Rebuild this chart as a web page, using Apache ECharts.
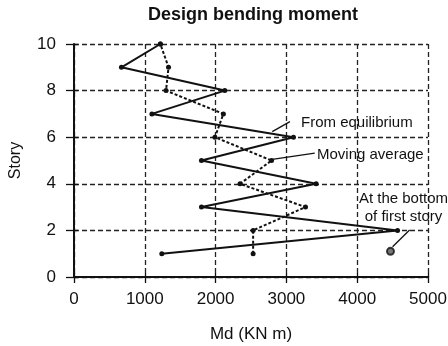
<!DOCTYPE html>
<html>
<head>
<meta charset="utf-8">
<script src="https://cdn.jsdelivr.net/npm/echarts@6/dist/echarts.min.js"></script>
<style>
html, body { margin: 0; padding: 0; background: #fff; }
#chart { width: 448px; height: 346px; }
</style>
</head>
<body>
<div id="chart"></div>
<script>
// story levels and design moments (KN m)
var stories = [1, 2, 3, 4, 5, 6, 7, 8, 9, 10];
var fromEquilibrium = [1240, 4570, 1800, 3420, 1800, 3100, 1100, 2130, 670, 1220];
var movingAverage = [2530, 2530, 3270, 2345, 2790, 1990, 2110, 1300, 1335, 1220];
var bottomOfFirst = [[4470, 1.1]];

// annotation leaders, in data units
var leaderEquilibrium = [[2800, 6.24], [3050, 6.67]];
var leaderMoving = [[2800, 5.05], [3400, 5.32]];
var leaderBottom = [[4500, 1.3], [4740, 2.02]];

var FONT = '"Liberation Sans", Arial, Helvetica, sans-serif';

function pairs(xs, ys) {
    return xs.map(function (x, i) { return [x, ys[i]]; });
}

var chart = echarts.init(document.getElementById('chart'));

var leaderStyle = { color: '#111', width: 1.3 };
var tickStyle = { color: '#111', width: 1.3 };
var plain = function (v) { return String(v); };

var option = {
    animation: false,
    backgroundColor: '#fff',
    title: {
        text: 'Design bending moment',
        left: 248, top: 1, textAlign: 'center',
        textStyle: { fontFamily: FONT, fontSize: 18, fontWeight: 'bold', color: '#111' }
    },
    grid: { left: 74, right: 20, top: 44, bottom: 69, outerBoundsMode: 'none' },
    xAxis: [{
        type: 'value', min: 0, max: 5000, interval: 1000,
        name: 'Md (KN m)', nameLocation: 'middle', nameGap: 49,
        nameTextStyle: { fontFamily: FONT, fontSize: 17, color: '#111' },
        axisLine: { lineStyle: { color: '#111', width: 2 } },
        axisTick: { show: true, length: 6, lineStyle: tickStyle },
        axisLabel: { fontFamily: FONT, fontSize: 17, color: '#111', margin: 14, formatter: plain },
        splitLine: { show: true, lineStyle: { color: '#222', width: 1.3, type: [5, 3] } }
    }, {
        // inner half of the crossing ticks
        type: 'value', min: 0, max: 5000, interval: 1000, position: 'bottom',
        axisLine: { show: false }, axisLabel: { show: false }, splitLine: { show: false },
        axisTick: { show: true, inside: true, length: 4, lineStyle: tickStyle }
    }],
    yAxis: [{
        type: 'value', min: 0, max: 10, interval: 2,
        name: 'Story', nameLocation: 'middle', nameGap: 50,
        nameTextStyle: { fontFamily: FONT, fontSize: 16, color: '#111' },
        axisLine: { show: true, lineStyle: { color: '#111', width: 2 } },
        axisTick: { show: true, length: 8, lineStyle: tickStyle },
        axisLabel: { fontFamily: FONT, fontSize: 17, color: '#111', margin: 18, formatter: plain },
        splitLine: { show: true, lineStyle: { color: '#222', width: 1.3, type: [5, 3] } }
    }, {
        type: 'value', min: 0, max: 10, interval: 2, position: 'left',
        axisLine: { show: false }, axisLabel: { show: false }, splitLine: { show: false },
        axisTick: { show: true, inside: true, length: 4, lineStyle: tickStyle }
    }],
    series: [
        {
            name: 'Moving average', type: 'line',
            data: pairs(movingAverage, stories),
            symbol: 'circle', symbolSize: 5,
            itemStyle: { color: '#111' },
            lineStyle: { color: '#111', width: 2, type: [3, 2] },
            z: 2
        },
        {
            name: 'From equilibrium', type: 'line',
            data: pairs(fromEquilibrium, stories),
            symbol: 'circle', symbolSize: 5,
            itemStyle: { color: '#111' },
            lineStyle: { color: '#111', width: 2 },
            z: 3
        },
        {
            name: 'At the bottom of first story', type: 'scatter',
            data: bottomOfFirst,
            symbol: 'circle', symbolSize: 7,
            itemStyle: { color: '#555', borderColor: '#111', borderWidth: 2 },
            z: 4
        },
        { type: 'line', data: leaderEquilibrium, symbol: 'none', silent: true, lineStyle: leaderStyle, z: 5 },
        { type: 'line', data: leaderMoving, symbol: 'none', silent: true, lineStyle: leaderStyle, z: 5 },
        { type: 'line', data: leaderBottom, symbol: 'none', silent: true, lineStyle: leaderStyle, z: 5 }
    ]
};

chart.setOption(option);

// annotation texts placed from data coordinates
function label(text, at, align) {
    var p = chart.convertToPixel({ gridIndex: 0 }, at);
    return {
        type: 'text', x: p[0], y: p[1], z: 10,
        style: {
            text: text, fill: '#111', font: '15px ' + FONT,
            textAlign: align, textVerticalAlign: 'middle', lineHeight: 18.5
        }
    };
}

chart.setOption({
    graphic: [
        label('From equilibrium', [3206, 6.61], 'left'),
        label('Moving average', [3432, 5.24], 'left'),
        label('At the bottom\nof first story', [4654, 2.97], 'center')
    ]
});
</script>
</body>
</html>
